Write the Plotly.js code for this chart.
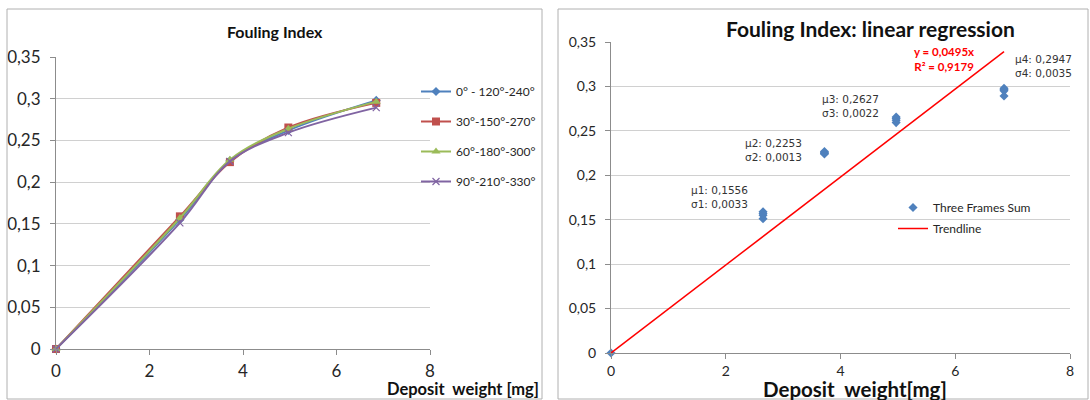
<!DOCTYPE html>
<html><head><meta charset="utf-8">
<script src="https://cdn.plot.ly/plotly-3.0.1.min.js"></script>
<style>html,body{margin:0;padding:0;background:#fff;} #chart{width:1090px;height:400px;}</style>
</head><body><div id="chart"></div>
<script>
// ---- data ----
const weights = [0, 2.65, 3.72, 4.97, 6.85];
const s0_120_240 = [0, 0.155, 0.2255, 0.262, 0.298];
const s30_150_270 = [0, 0.159, 0.224, 0.2655, 0.295];
const s60_180_300 = [0, 0.157, 0.2268, 0.264, 0.2965];
const s90_210_330 = [0, 0.1512, 0.2249, 0.2593, 0.2893];
const seriesNames = ['0° - 120°-240°', '30°-150°-270°', '60°-180°-300°', '90°-210°-330°'];
const trendSlope = 0.0495;
const trendX = [0, 6.85];
const muText = ['μ1: 0,1556', 'μ2: 0,2253', 'μ3: 0,2627', 'μ4: 0,2947'];
const sigmaText = ['σ1: 0,0033', 'σ2: 0,0013', 'σ3: 0,0022', 'σ4: 0,0035'];
const equationText = ['y = 0,0495x', 'R² = 0,9179'];
const yTickVals = [0, 0.05, 0.1, 0.15, 0.2, 0.25, 0.3, 0.35];
const yTickText = ['0', '0,05', '0,1', '0,15', '0,2', '0,25', '0,3', '0,35'];
const xTickVals = [0, 2, 4, 6, 8];
const xTickText = ['0', '2', '4', '6', '8'];

// ---- styling ----
const W = 1090, H = 400;
const px = v => v / W, py = v => 1 - v / H;
const FONT = 'Lato, "Open Sans", sans-serif';
const colors = ['#4F81BD', '#C0504D', '#9BBB59', '#8064A2'];
const symbols = ['diamond', 'square', 'triangle-up', 'x-thin-open'];
const sizes = [7, 8, 8, 7];
const allSeries = [s0_120_240, s30_150_270, s60_180_300, s90_210_330];

const traces = allSeries.map((ys, i) => ({
  type: 'scatter', mode: 'lines+markers', x: weights, y: ys, name: seriesNames[i],
  xaxis: 'x', yaxis: 'y', legend: 'legend', legendgroup: 'g' + i, cliponaxis: false,
  line: {color: colors[i], width: 2, shape: 'spline', smoothing: 1},
  marker: {color: colors[i], symbol: symbols[i], size: sizes[i], line: {color: colors[i], width: i === 3 ? 1.2 : 0}}
}));

// right: all frame values combined
const scX = [], scY = [];
weights.forEach((w, j) => {
  if (j === 0) { scX.push(w); scY.push(allSeries[0][0]); return; }
  allSeries.forEach(s => { scX.push(w); scY.push(s[j]); });
});
traces.push({
  type: 'scatter', mode: 'markers', x: scX, y: scY, name: 'Three Frames Sum',
  xaxis: 'x2', yaxis: 'y2', legend: 'legend2', legendgroup: 'r1', cliponaxis: false,
  marker: {color: '#4F81BD', symbol: 'diamond', size: 7}
});
traces.push({
  type: 'scatter', mode: 'lines', x: trendX, y: trendX.map(x => trendSlope * x), name: 'Trendline',
  xaxis: 'x2', yaxis: 'y2', legend: 'legend2', legendgroup: 'r2', cliponaxis: false,
  line: {color: '#FF0000', width: 1.5}
});

const axBase = {
  showline: true, linecolor: '#8c8c8c', linewidth: 1, mirror: false,
  ticks: 'outside', ticklen: 5, tickcolor: '#8c8c8c', zeroline: false, fixedrange: true
};
const layout = {
  width: W, height: H, margin: {l: 0, r: 0, t: 0, b: 0},
  paper_bgcolor: '#fff', plot_bgcolor: '#fff', showlegend: true,
  font: {family: FONT, color: '#262626'},
  xaxis: Object.assign({}, axBase, {domain: [px(56), px(430)], range: [0, 8], tickvals: xTickVals, ticktext: xTickText,
    showgrid: false, anchor: 'y', tickfont: {size: 17, color: '#262626'}, ticklabelstandoff: 2}),
  yaxis: Object.assign({}, axBase, {domain: [py(349), py(57)], range: [0, 0.35], tickvals: yTickVals, ticktext: yTickText,
    showgrid: true, gridcolor: '#d0d0d0', anchor: 'x', tickfont: {size: 17, color: '#262626'}, ticklabelstandoff: 6}),
  xaxis2: Object.assign({}, axBase, {domain: [px(611), px(1070)], range: [0, 8], tickvals: xTickVals, ticktext: xTickText,
    showgrid: false, anchor: 'y2', tickfont: {size: 14, color: '#262626'}, ticklabelstandoff: 0}),
  yaxis2: Object.assign({}, axBase, {domain: [py(353), py(42)], range: [0, 0.35], tickvals: yTickVals, ticktext: yTickText,
    showgrid: true, gridcolor: '#d0d0d0', anchor: 'x2', tickfont: {size: 14, color: '#262626'}, ticklabelstandoff: 6}),
  legend: {x: px(416), y: py(77), xanchor: 'left', yanchor: 'top', bgcolor: 'rgba(0,0,0,0)',
    font: {size: 12, family: FONT, color: '#262626'}, tracegroupgap: 11, itemwidth: 30},
  legend2: {x: px(893), y: py(193), xanchor: 'left', yanchor: 'top', bgcolor: 'rgba(0,0,0,0)',
    font: {size: 12, family: FONT, color: '#262626'}, tracegroupgap: 2, itemwidth: 30},
  shapes: [
    {type: 'rect', xref: 'paper', yref: 'paper', x0: px(7), x1: px(542), y0: py(399), y1: py(9), line: {color: '#b0b0b0', width: 1}},
    {type: 'rect', xref: 'paper', yref: 'paper', x0: px(558), x1: px(1088), y0: py(399), y1: py(9), line: {color: '#b0b0b0', width: 1}}
  ],
  annotations: [
    {xref: 'paper', yref: 'paper', x: px(275), y: py(31), text: '<b>Fouling Index</b>', showarrow: false,
      font: {size: 16, color: '#111'}, xanchor: 'center', yanchor: 'middle'},
    {xref: 'paper', yref: 'paper', x: px(463), y: py(389), text: '<b>Deposit\u00A0 weight [mg]</b>', showarrow: false,
      font: {size: 16.5, color: '#111'}, xanchor: 'center', yanchor: 'middle', borderpad: 0},
    {xref: 'paper', yref: 'paper', x: px(870), y: py(28), text: '<b>Fouling Index: linear regression</b>', showarrow: false,
      font: {size: 21, color: '#111'}, xanchor: 'center', yanchor: 'middle'},
    {xref: 'paper', yref: 'paper', x: px(855), y: py(389), text: '<b>Deposit\u00A0 weight[mg]</b>', showarrow: false,
      font: {size: 20.5, color: '#111'}, xanchor: 'center', yanchor: 'middle', borderpad: 0},
    {xref: 'paper', yref: 'paper', x: px(944), y: py(59), text: '<b>' + equationText.join('<br>') + '</b>', showarrow: false,
      font: {size: 11.5, color: '#FF0000'}, xanchor: 'center', yanchor: 'middle', align: 'center'}
  ]
};
const statPos = [[719, 197], [773, 150], [850, 106], [1043, 66]];
muText.forEach((m, i) => {
  layout.annotations.push({xref: 'paper', yref: 'paper', x: px(statPos[i][0]), y: py(statPos[i][1]),
    text: m + '<br>' + sigmaText[i], showarrow: false,
    font: {family: '"DejaVu Sans", sans-serif', size: 10.5, color: '#333'},
    xanchor: 'center', yanchor: 'middle', align: 'center'});
});
Plotly.newPlot('chart', traces, layout, {displayModeBar: false, staticPlot: true});
</script></body></html>
